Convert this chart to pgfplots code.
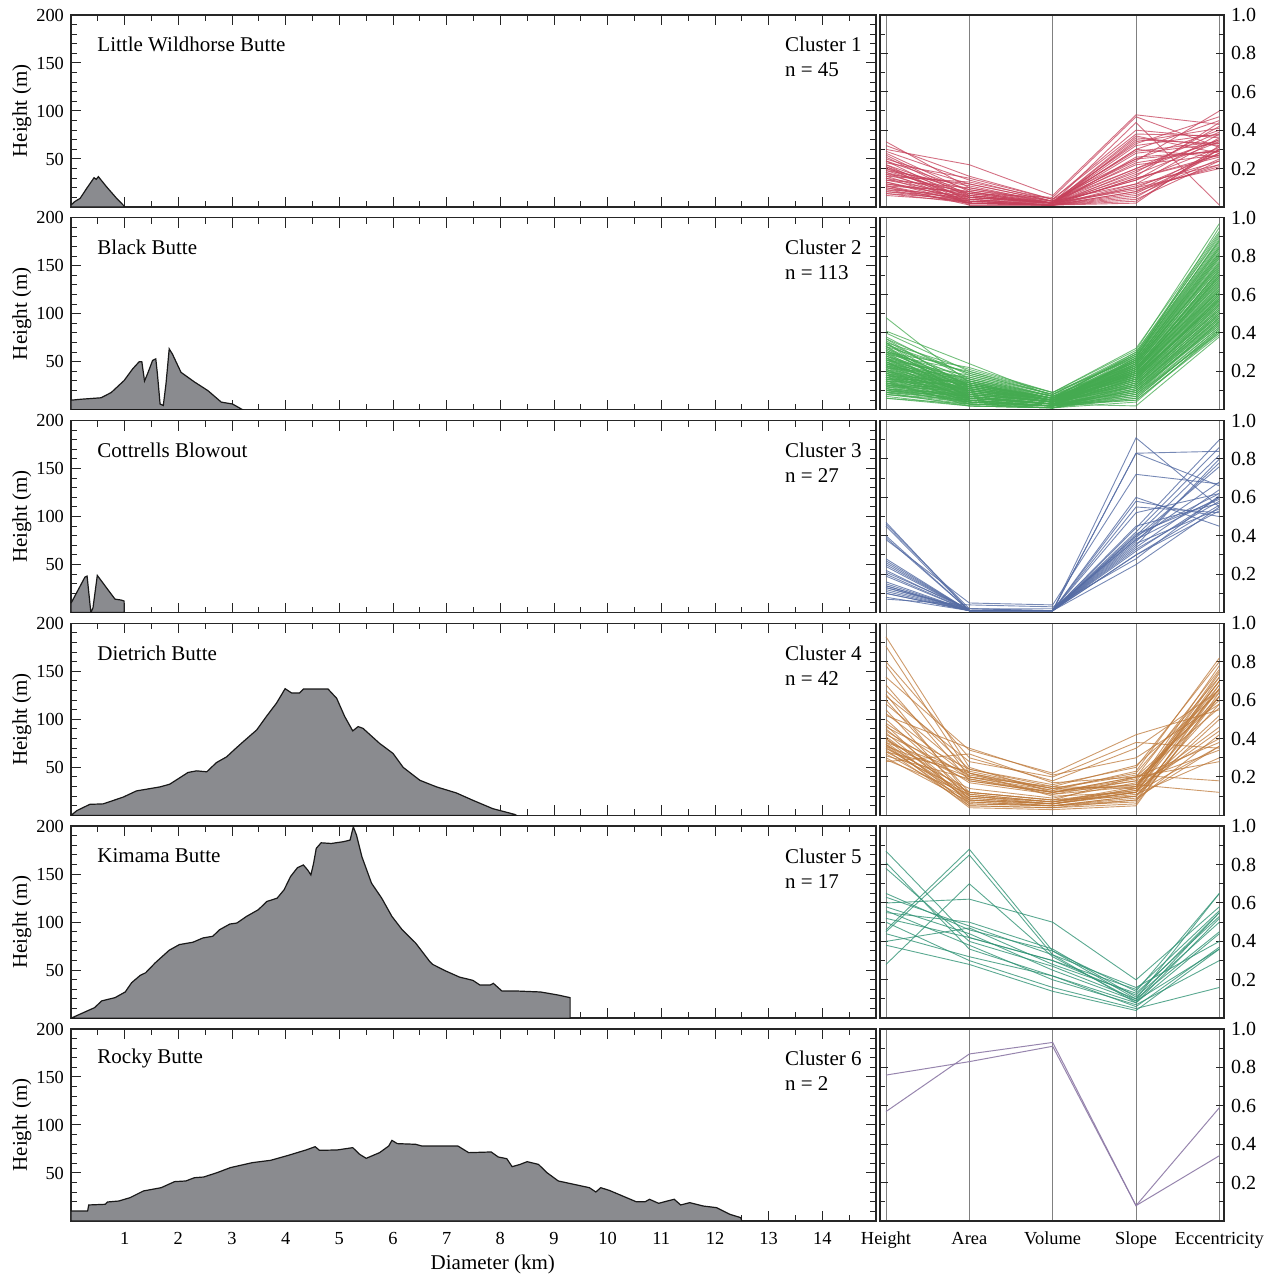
\documentclass[border=0pt]{standalone}
\usepackage{fontspec}
\setmainfont{Liberation Serif}
\usepackage{pgfplots}
\usepackage{pgfplotstable}
\pgfplotsset{compat=1.18}

\definecolor{profgray}{RGB}{138,139,143}
\definecolor{c1}{RGB}{214,48,80}
\definecolor{c2}{RGB}{58,178,72}
\definecolor{c3}{RGB}{70,100,175}
\definecolor{c4}{RGB}{205,120,40}
\definecolor{c5}{RGB}{35,150,115}
\definecolor{c6}{RGB}{140,120,165}

% ---------- profiles (Diameter km, Height m) ----------
\pgfplotstableread{
x y
0 2
0.07 5.6
0.17 9
0.30 20
0.43 30.5
0.47 28.8
0.51 31.6
0.66 21.2
0.85 9
0.99 1
1.0 0
}\pA
\pgfplotstableread{
x y
0 10
0.19 11
0.56 12.5
0.75 18
0.99 30.5
1.15 42.7
1.27 50
1.32 50
1.37 30
1.43 38
1.52 51.4
1.58 53
1.61 37.5
1.66 6
1.72 4.5
1.77 27
1.83 63.5
1.89 58
2.05 39
2.30 29
2.55 20
2.80 8
3.01 6
3.20 0
}\pB
\pgfplotstableread{
x y
0 9.7
0.26 37
0.30 38
0.37 0
0.41 5
0.49 38.7
0.82 14
0.94 13
0.99 12
}\pC
\pgfplotstableread{
x y
0 0
0.11 5
0.35 11.5
0.60 12
0.97 19
1.22 25.5
1.66 29.7
1.84 32.5
2.18 44.7
2.34 46.4
2.53 45.4
2.71 55
2.90 61
3.05 68.8
3.21 76.8
3.46 89
3.64 103
3.83 117
3.99 132
4.11 127.5
4.26 127.5
4.33 131.6
4.79 131.6
4.95 122
5.10 103
5.25 88
5.35 92.5
5.44 90.7
5.75 75
6.00 64.6
6.19 50
6.50 36.6
6.81 29.7
7.18 23.4
7.49 15.7
7.86 7
8.27 1
8.30 0
}\pD
\pgfplotstableread{
x y
0 0
0.44 11
0.57 18
0.82 21.4
1.01 27.3
1.13 37
1.29 44.6
1.39 47.3
1.57 57.7
1.83 70.8
2.02 76.7
2.27 79.1
2.46 83.6
2.64 85.3
2.77 92.2
2.96 98.1
3.09 99.1
3.27 106
3.49 113
3.65 121.6
3.84 125
3.97 133.7
4.09 147.5
4.22 156.8
4.33 159.6
4.41 154.4
4.47 149.2
4.52 161.3
4.57 176.9
4.66 182.7
4.85 182
5.07 183.8
5.20 185.5
5.26 199.3
5.32 190.7
5.42 168.2
5.60 140.6
5.79 125
5.98 106
6.17 92.2
6.42 78.4
6.68 59.4
6.74 56
6.99 49
7.24 42.8
7.49 39.4
7.62 34.5
7.81 34.5
7.87 36.3
8.03 28.3
8.31 28.3
8.75 27.3
9.07 24.2
9.30 21.4
}\pE
\pgfplotstableread{
x y
0 10.4
0.31 10.4
0.33 16.7
0.64 17.4
0.68 19.8
0.89 20.8
1.10 24.3
1.35 31.3
1.68 34.7
1.93 41
2.14 41.7
2.30 45.1
2.47 45.8
2.72 50.3
2.97 55.6
3.38 60.8
3.72 63.2
4.05 68.4
4.38 74
4.55 77.4
4.63 73.6
4.96 74
5.25 76.4
5.38 69.4
5.50 65.3
5.75 71.2
5.92 78.1
5.98 84
6.08 80.6
6.42 79.9
6.54 78.1
7.21 78.1
7.41 71.2
7.83 71.9
7.96 66.7
8.12 64.9
8.22 56.6
8.37 59
8.50 61.8
8.71 59
8.87 50.3
9.08 41.7
9.37 38.2
9.66 34.7
9.78 30.2
9.87 34.7
10.03 31.9
10.28 26
10.53 20.1
10.70 20.1
10.78 22.6
10.95 18.4
11.11 20.8
11.24 22.6
11.36 16.7
11.53 19.1
11.78 15.6
12.03 13.9
12.28 6.9
12.48 3.5
12.50 0
}\pF

% ---------- parallel coordinates (Height Area Volume Slope Eccentricity) ----------
\pgfplotstableread{
h a v s e
0.34 0.10 0.02 0.30 0.45
0.30 0.22 0.06 0.48 0.43
0.28 0.08 0.01 0.10 0.28
0.26 0.05 0.02 0.36 0.32
0.25 0.12 0.03 0.20 0.35
0.24 0.03 0.01 0.05 0.30
0.23 0.15 0.04 0.25 0.40
0.22 0.02 0.01 0.15 0.26
0.21 0.06 0.02 0.32 0.38
0.20 0.09 0.03 0.12 0.22
0.20 0.04 0.01 0.08 0.30
0.19 0.11 0.02 0.44 0.01
0.18 0.02 0.01 0.35 0.33
0.18 0.07 0.02 0.18 0.42
0.17 0.05 0.03 0.22 0.27
0.16 0.13 0.04 0.40 0.36
0.16 0.03 0.01 0.06 0.25
0.15 0.08 0.02 0.14 0.31
0.15 0.02 0.01 0.26 0.29
0.14 0.06 0.02 0.10 0.20
0.14 0.10 0.03 0.33 0.47
0.13 0.04 0.01 0.17 0.34
0.13 0.02 0.01 0.04 0.24
0.12 0.07 0.02 0.23 0.30
0.12 0.05 0.02 0.37 0.28
0.11 0.03 0.01 0.12 0.36
0.11 0.08 0.02 0.30 0.26
0.10 0.02 0.01 0.08 0.22
0.10 0.04 0.02 0.20 0.39
0.09 0.06 0.02 0.28 0.33
0.09 0.02 0.01 0.15 0.27
0.08 0.03 0.01 0.03 0.30
0.08 0.05 0.02 0.34 0.41
0.07 0.02 0.01 0.11 0.24
0.07 0.04 0.01 0.19 0.35
0.06 0.03 0.02 0.25 0.29
0.29 0.14 0.03 0.24 0.50
0.27 0.06 0.02 0.14 0.38
0.21 0.01 0.01 0.02 0.32
0.32 0.16 0.04 0.38 0.37
0.24 0.09 0.02 0.16 0.44
0.19 0.05 0.02 0.09 0.21
0.17 0.12 0.03 0.29 0.34
0.11 0.01 0.01 0.07 0.28
0.22 0.07 0.05 0.47 0.31
}\cA
\pgfplotstableread{
h a v s e
0.48 0.14 0.05 0.22 0.62
0.41 0.24 0.07 0.28 0.85
0.40 0.20 0.08 0.30 0.90
0.38 0.16 0.06 0.25 0.75
0.37 0.18 0.07 0.18 0.55
0.36 0.12 0.05 0.20 0.70
0.35 0.21 0.09 0.27 0.95
0.34 0.15 0.04 0.12 0.48
0.33 0.10 0.05 0.22 0.66
0.33 0.19 0.08 0.29 0.88
0.32 0.08 0.03 0.15 0.52
0.31 0.14 0.06 0.24 0.78
0.30 0.17 0.07 0.19 0.60
0.30 0.06 0.03 0.10 0.44
0.29 0.12 0.05 0.26 0.82
0.29 0.20 0.09 0.31 0.97
0.28 0.09 0.04 0.17 0.58
0.28 0.15 0.06 0.21 0.68
0.27 0.05 0.02 0.08 0.40
0.27 0.11 0.05 0.23 0.72
0.26 0.18 0.08 0.28 0.86
0.26 0.07 0.03 0.14 0.50
0.25 0.13 0.06 0.20 0.64
0.25 0.04 0.02 0.06 0.42
0.24 0.10 0.05 0.25 0.80
0.24 0.16 0.07 0.18 0.56
0.23 0.08 0.04 0.12 0.47
0.23 0.12 0.05 0.27 0.84
0.22 0.06 0.03 0.16 0.54
0.22 0.14 0.06 0.22 0.70
0.21 0.03 0.02 0.05 0.39
0.21 0.09 0.04 0.19 0.62
0.20 0.11 0.05 0.24 0.76
0.20 0.05 0.02 0.10 0.45
0.19 0.13 0.06 0.29 0.91
0.19 0.07 0.03 0.15 0.53
0.18 0.10 0.05 0.21 0.67
0.18 0.04 0.02 0.08 0.43
0.17 0.08 0.04 0.26 0.81
0.17 0.12 0.05 0.17 0.57
0.16 0.06 0.03 0.13 0.49
0.16 0.09 0.04 0.23 0.74
0.15 0.05 0.02 0.11 0.46
0.15 0.11 0.05 0.28 0.87
0.14 0.07 0.03 0.18 0.60
0.14 0.03 0.02 0.07 0.41
0.13 0.06 0.03 0.20 0.65
0.13 0.09 0.04 0.25 0.79
0.12 0.04 0.02 0.12 0.50
0.12 0.07 0.03 0.16 0.55
0.11 0.05 0.02 0.22 0.71
0.11 0.03 0.01 0.09 0.44
0.10 0.06 0.03 0.19 0.63
0.10 0.04 0.02 0.14 0.52
0.09 0.05 0.02 0.24 0.77
0.09 0.02 0.01 0.06 0.42
0.08 0.04 0.02 0.17 0.58
0.08 0.03 0.01 0.11 0.48
0.07 0.02 0.01 0.13 0.51
0.06 0.03 0.02 0.21 0.69
0.32 0.13 0.06 0.20 0.73
0.31 0.10 0.04 0.16 0.59
0.30 0.22 0.09 0.32 0.93
0.28 0.13 0.05 0.19 0.61
0.27 0.08 0.04 0.24 0.79
0.26 0.11 0.05 0.13 0.51
0.25 0.09 0.04 0.18 0.63
0.24 0.05 0.02 0.09 0.46
0.23 0.15 0.07 0.26 0.83
0.22 0.10 0.05 0.21 0.68
0.21 0.13 0.06 0.16 0.57
0.20 0.08 0.04 0.27 0.85
0.19 0.04 0.02 0.12 0.49
0.18 0.14 0.06 0.23 0.75
0.17 0.06 0.03 0.20 0.66
0.16 0.12 0.05 0.15 0.54
0.15 0.08 0.04 0.26 0.82
0.14 0.10 0.04 0.19 0.64
0.13 0.04 0.02 0.10 0.47
0.12 0.10 0.04 0.22 0.72
0.11 0.07 0.03 0.18 0.61
0.10 0.09 0.04 0.27 0.89
0.09 0.06 0.03 0.15 0.56
0.08 0.05 0.02 0.20 0.70
0.35 0.09 0.04 0.14 0.53
0.34 0.19 0.08 0.23 0.77
0.29 0.07 0.03 0.11 0.50
0.26 0.14 0.06 0.30 0.92
0.22 0.17 0.07 0.25 0.80
0.20 0.13 0.06 0.17 0.59
0.18 0.07 0.03 0.05 0.40
0.16 0.15 0.06 0.24 0.76
0.14 0.05 0.02 0.13 0.55
0.12 0.12 0.05 0.20 0.67
0.10 0.07 0.03 0.23 0.74
0.37 0.11 0.05 0.17 0.60
0.33 0.06 0.03 0.09 0.45
0.24 0.12 0.06 0.29 0.88
0.21 0.06 0.03 0.14 0.52
0.19 0.10 0.05 0.21 0.69
0.17 0.03 0.01 0.07 0.43
0.15 0.13 0.05 0.18 0.62
0.13 0.11 0.05 0.26 0.84
0.11 0.08 0.04 0.16 0.58
0.27 0.16 0.07 0.22 0.71
0.23 0.04 0.02 0.10 0.48
0.30 0.13 0.06 0.25 0.81
0.18 0.11 0.04 0.19 0.65
0.15 0.02 0.01 0.04 0.41
0.25 0.07 0.03 0.16 0.57
0.09 0.08 0.04 0.21 0.73
0.35 0.05 0.03 0.02 0.38
0.06 0.02 0.01 0.08 0.46
}\cB
\pgfplotstableread{
h a v s e
0.47 0.01 0.01 0.91 0.55
0.46 0.02 0.01 0.83 0.84
0.45 0.01 0.01 0.40 0.62
0.40 0.01 0.01 0.83 0.66
0.39 0.01 0.01 0.38 0.60
0.38 0.05 0.04 0.72 0.67
0.28 0.01 0.01 0.35 0.80
0.27 0.01 0.01 0.60 0.45
0.26 0.01 0.01 0.42 0.86
0.25 0.01 0.01 0.33 0.58
0.22 0.01 0.01 0.55 0.52
0.21 0.02 0.01 0.37 0.78
0.20 0.01 0.01 0.30 0.56
0.19 0.01 0.01 0.44 0.90
0.15 0.01 0.01 0.52 0.62
0.14 0.01 0.01 0.36 0.54
0.14 0.01 0.01 0.40 0.82
0.13 0.01 0.01 0.32 0.60
0.13 0.02 0.02 0.38 0.68
0.12 0.01 0.01 0.45 0.57
0.11 0.01 0.01 0.30 0.53
0.10 0.01 0.01 0.34 0.64
0.10 0.01 0.01 0.41 0.59
0.08 0.01 0.01 0.25 0.55
0.07 0.04 0.03 0.28 0.61
0.16 0.01 0.01 0.58 0.50
0.24 0.01 0.01 0.39 0.76
}\cC
\pgfplotstableread{
h a v s e
0.93 0.25 0.12 0.20 0.60
0.88 0.22 0.10 0.12 0.70
0.80 0.30 0.18 0.35 0.65
0.78 0.20 0.15 0.14 0.75
0.72 0.34 0.22 0.42 0.55
0.68 0.18 0.12 0.18 0.62
0.65 0.24 0.16 0.25 0.80
0.63 0.10 0.07 0.15 0.68
0.62 0.28 0.20 0.38 0.35
0.60 0.12 0.08 0.10 0.50
0.58 0.22 0.14 0.22 0.72
0.55 0.08 0.06 0.12 0.66
0.53 0.20 0.13 0.16 0.12
0.52 0.35 0.21 0.30 0.58
0.50 0.11 0.07 0.13 0.44
0.48 0.19 0.12 0.20 0.76
0.47 0.06 0.05 0.09 0.36
0.46 0.24 0.15 0.26 0.64
0.45 0.10 0.06 0.14 0.70
0.44 0.17 0.11 0.18 0.34
0.43 0.07 0.05 0.10 0.62
0.42 0.21 0.14 0.15 0.78
0.41 0.09 0.06 0.12 0.52
0.40 0.12 0.08 0.20 0.38
0.40 0.05 0.04 0.08 0.66
0.39 0.18 0.12 0.16 0.70
0.38 0.08 0.06 0.11 0.30
0.38 0.22 0.13 0.23 0.82
0.37 0.10 0.07 0.14 0.46
0.36 0.06 0.05 0.07 0.68
0.36 0.20 0.12 0.19 0.56
0.35 0.09 0.06 0.12 0.72
0.35 0.14 0.09 0.17 0.40
0.34 0.05 0.04 0.06 0.62
0.33 0.12 0.08 0.13 0.74
0.33 0.23 0.14 0.21 0.18
0.32 0.08 0.05 0.10 0.58
0.31 0.19 0.11 0.15 0.66
0.30 0.07 0.05 0.08 0.42
0.28 0.32 0.17 0.20 0.28
0.29 0.11 0.07 0.12 0.36
0.37 0.04 0.03 0.05 0.64
}\cD
\pgfplotstableread{
h a v s e
0.87 0.42 0.30 0.12 0.55
0.81 0.36 0.22 0.08 0.52
0.78 0.40 0.27 0.10 0.45
0.65 0.46 0.35 0.14 0.65
0.63 0.48 0.33 0.16 0.40
0.60 0.62 0.50 0.20 0.58
0.58 0.44 0.25 0.09 0.36
0.56 0.38 0.20 0.07 0.30
0.55 0.50 0.36 0.11 0.50
0.52 0.42 0.30 0.15 0.56
0.50 0.30 0.16 0.05 0.16
0.46 0.88 0.35 0.10 0.65
0.45 0.85 0.33 0.08 0.44
0.44 0.32 0.22 0.06 0.37
0.40 0.47 0.28 0.13 0.53
0.38 0.28 0.14 0.04 0.36
0.28 0.70 0.32 0.09 0.55
}\cE
\pgfplotstableread{
h a v s e
0.76 0.83 0.91 0.08 0.34
0.57 0.87 0.93 0.08 0.59
}\cF

\newcommand\parlines[2]{%
  \pgfplotstablegetrowsof{#1}%
  \pgfmathtruncatemacro\nrows{\pgfplotsretval-1}%
  \pgfplotsforeachungrouped \ii in {0,...,\nrows}{%
    \pgfplotstablegetelem{\ii}{h}\of#1\let\vh\pgfplotsretval
    \pgfplotstablegetelem{\ii}{a}\of#1\let\va\pgfplotsretval
    \pgfplotstablegetelem{\ii}{v}\of#1\let\vv\pgfplotsretval
    \pgfplotstablegetelem{\ii}{s}\of#1\let\vs\pgfplotsretval
    \pgfplotstablegetelem{\ii}{e}\of#1\let\ve\pgfplotsretval
    \edef\tmp{\noexpand\addplot[#2] coordinates {(1,\vh) (2,\va) (3,\vv) (4,\vs) (5,\ve)};}%
    \tmp
  }%
}

\tikzset{lab/.style={anchor=west, inner sep=0pt, font=\fontsize{10.5}{12}\selectfont}}

\pgfplotsset{
  every axis/.append style={
    scale only axis, height=96pt,
    axis line style={black!85, line width=0.7pt},
    tick style={black!85, line width=0.5pt},
    tick align=inside,
    /pgf/number format/assume math mode=true,
    tick label style={font=\fontsize{9.2}{10}\selectfont},
    label style={font=\fontsize{10.5}{12}\selectfont},
  },
  prof/.style={
    width=402.5pt, xmin=0, xmax=15, ymin=0, ymax=200,
    xtick={1,...,14}, minor xtick={0.5,1.5,...,14.5},
    ytick={50,100,150,200}, minor ytick={10,20,...,190},
    major tick length=5pt, minor tick length=3pt,
    ylabel={Height (m)},
    ylabel style={at={(axis description cs:-0.061,0.5)}, anchor=center},
    xticklabels={},
  },
  par/.style={
    width=172pt, xmin=0.928, xmax=5.056, ymin=0, ymax=1,
    xtick={1,2,3,4,5}, xticklabels={}, xtick style={draw=none},
    xmajorgrids, grid style={black!50, line width=0.5pt},
    ytick={0.2,0.4,0.6,0.8,1.0}, minor ytick={0.1,0.3,0.5,0.7,0.9},
    yticklabel pos=right,
    yticklabel style={font=\fontsize{10}{12}\selectfont,
      /pgf/number format/fixed, /pgf/number format/fixed zerofill,
      /pgf/number format/precision=1},
    major tick length=4pt, minor tick length=2.5pt,
  },
  profile/.style={fill=profgray, draw=black!90, line width=0.6pt},
  l1/.style={c1!80!gray, line width=0.45pt, opacity=0.75, mark=none},
  l2/.style={c2!85!gray, line width=0.45pt, opacity=0.75, mark=none},
  l3/.style={c3!75!gray, line width=0.45pt, opacity=0.8, mark=none},
  l4/.style={c4!80!gray, line width=0.45pt, opacity=0.75, mark=none},
  l5/.style={c5!85!gray, line width=0.45pt, opacity=0.8, mark=none},
  l6/.style={c6, line width=0.5pt, opacity=0.9, mark=none},
}

\begin{document}
\begin{tikzpicture}
\path (0,0) rectangle (633.5pt,639pt);

% ---- row 1 ----
\begin{axis}[prof, at={(35.5pt,535.5pt)}]
  \addplot[profile] table {\pA} \closedcycle;
  \node[lab] at (axis cs:0.485,169) {Little Wildhorse Butte};
  \node[lab] at (axis cs:13.3,169) {Cluster 1};
  \node[lab] at (axis cs:13.3,142.7) {n = 45};
\end{axis}
\begin{axis}[par, at={(440pt,535.5pt)}]
  \parlines{\cA}{l1}
\end{axis}

% ---- row 2 ----
\begin{axis}[prof, at={(35.5pt,434.1pt)}]
  \addplot[profile] table {\pB} \closedcycle;
  \node[lab] at (axis cs:0.485,169) {Black Butte};
  \node[lab] at (axis cs:13.3,169) {Cluster 2};
  \node[lab] at (axis cs:13.3,142.7) {n = 113};
\end{axis}
\begin{axis}[par, at={(440pt,434.1pt)}]
  \parlines{\cB}{l2}
\end{axis}

% ---- row 3 ----
\begin{axis}[prof, at={(35.5pt,332.7pt)}]
  \addplot[profile] table {\pC} \closedcycle;
  \node[lab] at (axis cs:0.485,169) {Cottrells Blowout};
  \node[lab] at (axis cs:13.3,169) {Cluster 3};
  \node[lab] at (axis cs:13.3,142.7) {n = 27};
\end{axis}
\begin{axis}[par, at={(440pt,332.7pt)}]
  \parlines{\cC}{l3}
\end{axis}

% ---- row 4 ----
\begin{axis}[prof, at={(35.5pt,231.3pt)}]
  \addplot[profile] table {\pD} \closedcycle;
  \node[lab] at (axis cs:0.485,169) {Dietrich Butte};
  \node[lab] at (axis cs:13.3,169) {Cluster 4};
  \node[lab] at (axis cs:13.3,142.7) {n = 42};
\end{axis}
\begin{axis}[par, at={(440pt,231.3pt)}]
  \parlines{\cD}{l4}
\end{axis}

% ---- row 5 ----
\begin{axis}[prof, at={(35.5pt,129.9pt)}]
  \addplot[profile] table {\pE} \closedcycle;
  \node[lab] at (axis cs:0.485,169) {Kimama Butte};
  \node[lab] at (axis cs:13.3,169) {Cluster 5};
  \node[lab] at (axis cs:13.3,142.7) {n = 17};
\end{axis}
\begin{axis}[par, at={(440pt,129.9pt)}]
  \parlines{\cE}{l5}
\end{axis}

% ---- row 6 ----
\begin{axis}[prof, at={(35.5pt,28.5pt)},
    xticklabels={1,2,3,4,5,6,7,8,9,10,11,12,13,14},
    xticklabel style={yshift=-2pt},
    xlabel={Diameter (km)},
    xlabel style={at={(axis description cs:0.524,0)}, anchor=center, inner sep=0pt, yshift=-21.5pt}]
  \addplot[profile] table {\pF} \closedcycle;
  \node[lab] at (axis cs:0.485,169) {Rocky Butte};
  \node[lab] at (axis cs:13.3,169) {Cluster 6};
  \node[lab] at (axis cs:13.3,142.7) {n = 2};
\end{axis}
\begin{axis}[par, at={(440pt,28.5pt)},
    xticklabels={Height,Area,Volume,Slope,Eccentricity},
    xticklabel style={yshift=-2pt}]
  \parlines{\cF}{l6}
\end{axis}
\end{tikzpicture}
\end{document}
